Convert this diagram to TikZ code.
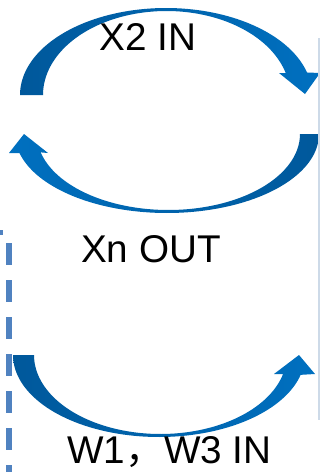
\documentclass[tikz,border=0pt]{standalone}
\usepackage{fontspec}
\setmainfont{Liberation Sans}
\newfontfamily\cjk{Noto Sans CJK SC}
\definecolor{dkblue}{RGB}{0,88,155}
\definecolor{ltblue}{RGB}{0,112,192}
\definecolor{dashblue}{RGB}{80,130,192}
\definecolor{edgeline}{RGB}{205,218,232}
\begin{document}
\begin{tikzpicture}[x=0.75pt,y=-0.75pt,
  lbl/.style={anchor=base,inner sep=0pt,font=\fontsize{29}{34}\selectfont},
  dashline/.style={draw=dashblue,line width=4.1pt,dash pattern=on 16.5pt off 11.25pt}]
\useasboundingbox (0,0) rectangle (320,472);

% upper curved arrow (left to right, over the top)
\shade[left color=dkblue,right color=ltblue]
  plot[domain=180:15,samples=80] ({166+146*cos(\x)},{95-87*sin(\x)})
  -- (320,73) -- (305,94) -- (279,73)
  -- plot[domain=15:180,samples=80] ({166.5+123.5*cos(\x)},{95-84*sin(\x)}) -- cycle;

% lower return arrow (right to left, under the bottom)
\shade[left color=ltblue,right color=dkblue]
  plot[domain=0:-166,samples=80] ({167+152*cos(\x)},{134-79*sin(\x)})
  -- (9,153) -- (24,134) -- (48,153)
  -- plot[domain=-166:0,samples=80] ({168.4+131.6*cos(\x)},{134-76*sin(\x)}) -- cycle;

% bottom arrow (left to right)
\shade[left color=dkblue,right color=ltblue]
  plot[domain=180:346,samples=80] ({159+146*cos(\x)},{355-82*sin(\x)})
  -- (315,374) -- (299,355) -- (274,374)
  -- plot[domain=346:180,samples=80] ({160.4+126.4*cos(\x)},{355-79*sin(\x)}) -- cycle;

% dashed border on the left
\draw[dashline,dash pattern=] (0,232.5) -- (3,232.5);
\draw[dashline] (9,243) -- (9,490);

% thin rule on the right
\draw[edgeline,line width=0.9pt] (319,38) -- (319,420);

% labels
\node[lbl] (x2in) at (148,50) {X2 IN};
\node[lbl] (xnout) at (151,262) {Xn OUT};
\node[lbl] (w13in) at (169.5,463.5) {W1{\cjk ，}W3 IN};
\end{tikzpicture}
\end{document}
